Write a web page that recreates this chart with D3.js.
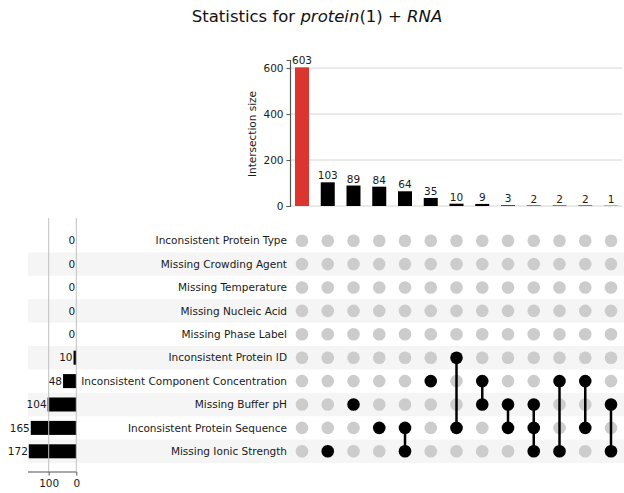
<!DOCTYPE html>
<html>
<head>
<meta charset="utf-8">
<script src="https://cdn.jsdelivr.net/npm/d3@7"></script>
<style>
  body { margin: 0; background: #fff; }
  svg { display: block; font-family: "DejaVu Sans", sans-serif; }
</style>
</head>
<body>
<svg id="chart" width="624" height="493"></svg>
<script>
// set names, top row to bottom row
const setNames = [
    "Inconsistent Protein Type",
    "Missing Crowding Agent",
    "Missing Temperature",
    "Missing Nucleic Acid",
    "Missing Phase Label",
    "Inconsistent Protein ID",
    "Inconsistent Component Concentration",
    "Missing Buffer pH",
    "Inconsistent Protein Sequence",
    "Missing Ionic Strength"
];
const setTotals = [0, 0, 0, 0, 0, 10, 48, 104, 165, 172];

// intersections, left to right
const interSizes = [603, 103, 89, 84, 64, 35, 10, 9, 3, 2, 2, 2, 1];
const interMembers = [
    [],
    ["Missing Ionic Strength"],
    ["Missing Buffer pH"],
    ["Inconsistent Protein Sequence"],
    ["Inconsistent Protein Sequence", "Missing Ionic Strength"],
    ["Inconsistent Component Concentration"],
    ["Inconsistent Protein ID", "Inconsistent Protein Sequence"],
    ["Inconsistent Component Concentration", "Missing Buffer pH"],
    ["Missing Buffer pH", "Inconsistent Protein Sequence"],
    ["Missing Buffer pH", "Inconsistent Protein Sequence", "Missing Ionic Strength"],
    ["Inconsistent Component Concentration", "Missing Ionic Strength"],
    ["Inconsistent Component Concentration", "Inconsistent Protein Sequence"],
    ["Missing Buffer pH", "Missing Ionic Strength"]
];
const sizeTicks = [0, 200, 400, 600];
const totalTicks = [100, 0];
const highlightColor = "#dc3530";

const fs = 10.5; // small text size
const svg = d3.select("#chart");

// title, with the math part in italics like matplotlib mathtext
const title = svg.append("text")
    .attr("x", 317).attr("y", 22)
    .attr("text-anchor", "middle")
    .attr("font-size", 16.5)
    .attr("fill", "#111");
title.append("tspan").text("Statistics for ");
title.append("tspan").attr("font-style", "italic").text("protein");
title.append("tspan").text("(1) + ");
title.append("tspan").attr("font-style", "italic").text("RNA");

// scales
const cols = d3.range(interSizes.length);
const x = d3.scalePoint().domain(cols).range([302, 611]);
const barW = 14;
const y = d3.scaleLinear().domain([0, 635]).range([206, 60]);
const rowY = d3.scaleBand().domain(setNames).range([229, 463]);
const rowC = s => rowY(s) + rowY.bandwidth() / 2;
const tx = d3.scaleLinear().domain([0, 175]).range([76.3, 28]);

// alternating row shading
svg.append("g").selectAll("rect")
    .data(setNames.filter((d, i) => i % 2 == 1))
    .join("rect")
    .attr("x", 28).attr("width", 596)
    .attr("y", d => rowY(d)).attr("height", rowY.bandwidth())
    .attr("fill", "#f5f5f5");

// ---- intersection size bars ----
const barsG = svg.append("g");
barsG.append("g").selectAll("line")
    .data(sizeTicks)
    .join("line")
    .attr("x1", 290).attr("x2", 622)
    .attr("y1", d => y(d)).attr("y2", d => y(d))
    .attr("stroke", "#d4d4d4").attr("stroke-width", 1);

const yAxis = barsG.append("g")
    .attr("transform", "translate(290,0)")
    .call(d3.axisLeft(y).tickValues(sizeTicks).tickSize(3.5).tickPadding(3));
yAxis.select(".domain").attr("stroke", "#555").attr("stroke-width", 1.2);
yAxis.selectAll(".tick line").attr("stroke", "#555");
yAxis.selectAll("text").attr("font-size", fs).attr("fill", "#1a1a1a")
    .attr("font-family", "DejaVu Sans, sans-serif");

barsG.append("text")
    .attr("transform", "translate(256,134) rotate(-90)")
    .attr("text-anchor", "middle")
    .attr("font-size", fs).attr("fill", "#1a1a1a")
    .text("Intersection size");

barsG.append("g").selectAll("rect")
    .data(cols)
    .join("rect")
    .attr("x", i => x(i) - barW / 2).attr("width", barW)
    .attr("y", i => y(interSizes[i]))
    .attr("height", i => y(0) - y(interSizes[i]))
    .attr("fill", i => i == 0 ? highlightColor : "#000");

barsG.append("g").selectAll("text")
    .data(cols)
    .join("text")
    .attr("x", i => x(i)).attr("y", i => y(interSizes[i]) - 3)
    .attr("text-anchor", "middle")
    .attr("font-size", fs).attr("fill", "#1a1a1a")
    .text(i => interSizes[i]);

// ---- set totals on the left ----
const totalsG = svg.append("g");

totalsG.append("g").selectAll("rect")
    .data(setNames)
    .join("rect")
    .attr("x", (d, i) => tx(setTotals[i]))
    .attr("width", (d, i) => tx(0) - tx(setTotals[i]))
    .attr("y", d => rowC(d) - 7).attr("height", 14)
    .attr("fill", "#000");

// grid drawn over the bars, like the reference
totalsG.append("g").selectAll("line")
    .data(totalTicks)
    .join("line")
    .attr("x1", d => tx(d)).attr("x2", d => tx(d))
    .attr("y1", 218).attr("y2", 472)
    .attr("stroke", "#c0c0c0").attr("stroke-width", 1);

totalsG.append("g").selectAll("text")
    .data(setNames)
    .join("text")
    .attr("x", (d, i) => tx(setTotals[i]) - 1)
    .attr("y", d => rowC(d))
    .attr("dy", "0.35em")
    .attr("text-anchor", "end")
    .attr("font-size", fs).attr("fill", "#1a1a1a")
    .text((d, i) => setTotals[i]);

const xAxis = totalsG.append("g")
    .attr("transform", "translate(0,472)")
    .call(d3.axisBottom(tx).tickValues(totalTicks).tickSize(3.5).tickPadding(4));
xAxis.select(".domain").attr("stroke", "#555").attr("stroke-width", 1.2)
    .attr("d", `M${tx(0)},0H${tx(175)}`);
xAxis.selectAll(".tick line").attr("stroke", "#555");
xAxis.selectAll("text").attr("font-size", fs).attr("fill", "#1a1a1a")
    .attr("font-family", "DejaVu Sans, sans-serif");

// ---- set labels ----
svg.append("g").selectAll("text")
    .data(setNames)
    .join("text")
    .attr("x", 287).attr("y", d => rowC(d))
    .attr("dy", "0.35em")
    .attr("text-anchor", "end")
    .attr("font-size", fs).attr("fill", "#1a1a1a")
    .text(d => d);

// ---- matrix ----
const matrix = svg.append("g");
const cells = [];
cols.forEach(i => setNames.forEach(s => cells.push({ col: i, set: s, on: interMembers[i].includes(s) })));

matrix.append("g").selectAll("circle")
    .data(cells.filter(c => !c.on))
    .join("circle")
    .attr("cx", c => x(c.col)).attr("cy", c => rowC(c.set))
    .attr("r", 6.3)
    .attr("fill", "#cccccc");

matrix.append("g").selectAll("line")
    .data(cols.filter(i => interMembers[i].length > 1))
    .join("line")
    .attr("x1", i => x(i)).attr("x2", i => x(i))
    .attr("y1", i => d3.min(interMembers[i], rowC))
    .attr("y2", i => d3.max(interMembers[i], rowC))
    .attr("stroke", "#000").attr("stroke-width", 2.5);

matrix.append("g").selectAll("circle")
    .data(cells.filter(c => c.on))
    .join("circle")
    .attr("cx", c => x(c.col)).attr("cy", c => rowC(c.set))
    .attr("r", 6.3)
    .attr("fill", "#000");
</script>
</body>
</html>
